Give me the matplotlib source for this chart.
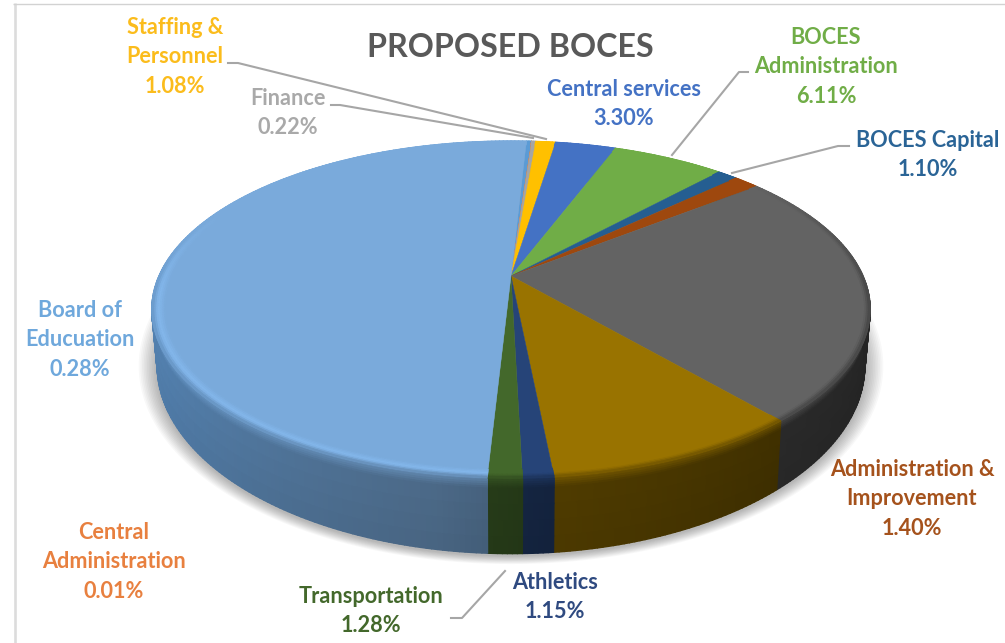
#!/usr/bin/env python3
"""Proposed BOCES budget shares as a bevelled, perspective 3-D pie."""

import numpy as np
import matplotlib
matplotlib.use("Agg")
import matplotlib.pyplot as plt
from matplotlib.collections import PolyCollection
from matplotlib.colors import to_rgb

TITLE = "PROPOSED BOCES"

# clockwise from the first slice; the last three big slices carry no readable label
CATEGORIES = ["Board of\nEducuation", "Central\nAdministration", "Finance", "Staffing &\nPersonnel",
              "Central services", "BOCES\nAdministration", "BOCES Capital", "Administration &\nImprovement",
              "", "", "Athletics", "Transportation", ""]
SHARES = [0.28, 0.01, 0.22, 1.08, 3.30, 6.11, 1.10, 1.40, 24.4, 9.7, 1.15, 1.28, 49.97]
SLICE_COLORS = ["#5B9BD5", "#ED7D31", "#A5A5A5", "#FFC000", "#4472C4", "#70AD47", "#255E91",
                "#9E480E", "#636363", "#997300", "#264478", "#43682B", "#7AAADB"]
LABEL_COLORS = ["#6FA8DC", "#E8803F", "#A9A9A9", "#FBBC1C", "#4472C4", "#70AD47", "#2A6496",
                "#A5521C", None, None, "#2F4A80", "#43682B", None]
# label centre x and baseline y of the first line, in figure pixels
LABEL_POS = [(80, 317), (114, 539), (288, 105), (175, 34), (624, 96), (826, 44), (928, 147), (912, 476),
             None, None, (555, 589), (371, 603), None]
LEADERS = [[(228, 63), (238, 63), (546, 139)],
           [(331, 105), (340, 105), (533, 138)],
           [(748, 72), (739, 72), (672, 155)],
           [(849, 146), (838, 146), (732, 173)],
           [(451, 618), (462, 618), (505, 571)]]

W, H = 1005, 643
CX, CY = 511, 276      # pie apex on the page
RX, RY = 352, 161.8    # projected radii before perspective
PERSP = 0.199
FIRST_ANGLE = 3.0
LINE_H = 29.3

# wall darkening against the angle around the pie
WALL_ANGLES = [60, 110, 140, 175, 190, 230, 270, 300]
WALL_SHADE = [0.40, 0.38, 0.42, 0.52, 0.62, 0.72, 0.80, 0.85]


def top_point(theta, r=1.0):
    t = np.radians(theta)
    x, y = r * np.sin(t), -r * np.cos(t)
    w = 1 - PERSP * y
    return CX + RX * x / w, CY + RY * y / w


def bottom_point(theta):
    x, y = top_point(theta)
    return CX + (x - CX) * 0.985, CY + 52 + (y - CY) * 1.117


def surface(theta, level):
    """level < 0 sits on the top face near the rim, 0..1 runs down the wall."""
    if level <= 0:
        return top_point(theta, 1 + level)
    x0, y0 = top_point(theta)
    x1, y1 = bottom_point(theta)
    return x0 + (x1 - x0) * level, y0 + (y1 - y0) * level


def bevel_weight(theta):
    t = (theta % 360)
    return float(np.interp(t, [0, 50, 72, 95, 265, 280, 295, 360], [0, 0, 0.5, 1, 1, 0.5, 0, 0]))


def level_color(base, theta, level):
    base = np.array(to_rgb(base))
    t = theta % 360
    wall = base * np.interp(t, WALL_ANGLES, WALL_SHADE)
    # the lit side of the wall keeps more colour
    wall = wall + (wall - wall.mean()) * np.interp(t, [190, 240], [0, 0.25])
    # only the pale slices catch a highlight on the bevel
    bright = np.clip(base * 1.08, 0, 1) if base.mean() > 0.55 else base
    keys = [-0.035, -0.015, 0.0, 0.14, 1.0]
    cols = np.array([base, bright, base * 0.5 + wall * 0.5, wall, wall * 0.95])
    col = np.array([np.interp(level, keys, cols[:, i]) for i in range(3)])
    return base + (col - base) * bevel_weight(theta)


def add_band(level_list, lw):
    polys, cols = [], []
    for i, base in enumerate(SLICE_COLORS):
        a0, a1 = edges[i], edges[i + 1]
        steps = np.linspace(a0, a1, max(2, int((a1 - a0) / 0.75) + 2))
        for l0, l1 in zip(level_list[:-1], level_list[1:]):
            for t0, t1 in zip(steps[:-1], steps[1:]):
                polys.append([surface(t0, l0), surface(t1, l0), surface(t1, l1), surface(t0, l1)])
                cols.append(np.clip(level_color(base, (t0 + t1) / 2, (l0 + l1) / 2), 0, 1))
    ax.add_collection(PolyCollection(polys, facecolors=cols, edgecolors=cols, linewidths=lw))


fig = plt.figure(figsize=(W / 100, H / 100), dpi=100)
ax = fig.add_axes([0, 0, 1, 1])
ax.set_xlim(0, W)
ax.set_ylim(H, 0)
ax.axis("off")

# frame lines of the pasted chart
ax.plot([14.7, 14.7], [H, 3], color="#DCDCDC", lw=1.9, solid_capstyle="butt")
ax.plot([13, W], [3.9, 3.9], color="#D2D2D2", lw=1.0, solid_capstyle="butt")

# soft drop shadow under the pie
ring = np.linspace(0, 360, 361)
bx, by = np.array([bottom_point(a) for a in ring]).T
for grow in np.arange(22, 0, -2):
    s = 1 + grow / 420
    ax.fill(CX + (bx - CX) * s, 392 + (by - 392) * s + 2, color="k", alpha=0.026, lw=0)

edges = FIRST_ANGLE + np.concatenate([[0], np.cumsum(SHARES)]) * 3.6
rim_levels = np.linspace(-0.035, 0, 8)
wall_levels = np.concatenate([np.linspace(0, 0.14, 6), np.linspace(0.14, 1, 5)[1:]])

# walls are fine quads, shaded by angle and height
add_band(wall_levels, 1.0)

# flat top wedges
for i, base in enumerate(SLICE_COLORS):
    a = np.linspace(edges[i], edges[i + 1], max(3, int(edges[i + 1] - edges[i]) * 2))
    xs, ys = np.array([top_point(v) for v in a]).T
    ax.fill(np.r_[CX, xs], np.r_[CY, ys], color=base, lw=0.3)

# inner rim of the bevel goes over the wedges
add_band(rim_levels, 0.8)

for pts in LEADERS:
    xs, ys = zip(*pts)
    ax.plot(xs, ys, color="#A6A6A6", lw=1.5, solid_joinstyle="round")

ax.text(510, 57, TITLE, ha="center", va="baseline", fontsize=23.2, fontweight="bold",
        color="#595959", family="Lato")

for name, share, color, pos in zip(CATEGORIES, SHARES, LABEL_COLORS, LABEL_POS):
    if pos is None:
        continue
    lines = name.split("\n") + [f"{share:.2f}%"]
    for k, line in enumerate(lines):
        ax.text(pos[0], pos[1] + k * LINE_H, line, ha="center", va="baseline", fontsize=15.6,
                fontweight="bold", color=color, family="Lato")

fig.savefig("out.png", dpi=100, facecolor="white")
